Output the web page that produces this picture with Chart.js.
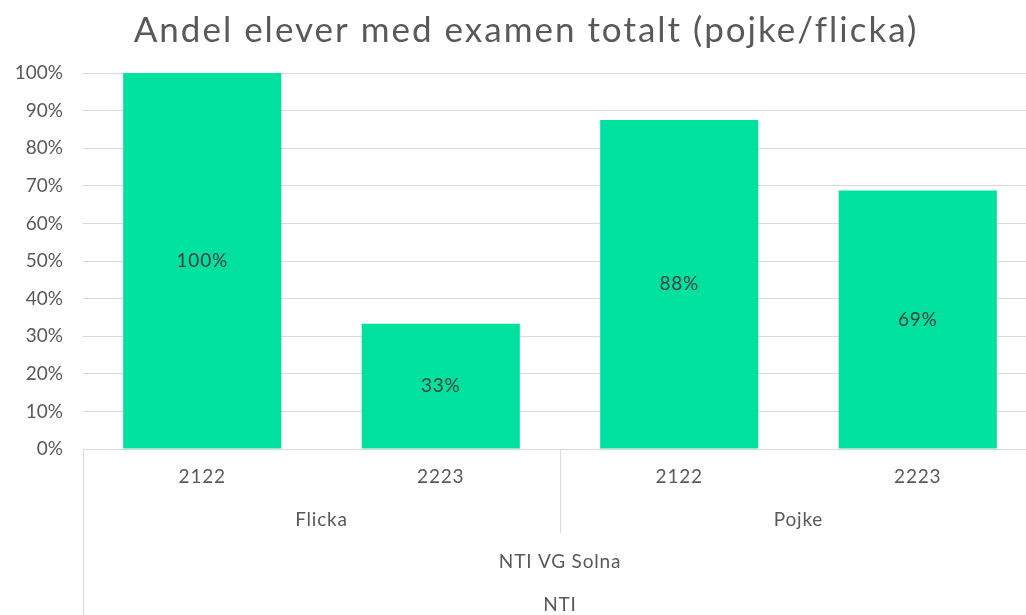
<!DOCTYPE html>
<html>
<head>
<meta charset="utf-8">
<script src="https://cdn.jsdelivr.net/npm/chart.js@4/dist/chart.umd.min.js"></script>
<style>
  html, body { margin: 0; padding: 0; background: #fff; overflow: hidden; }
  #wrap { width: 1040px; height: 615px; }
</style>
</head>
<body>
<div id="wrap"><canvas id="chart"></canvas></div>
<script>
const title = 'Andel elever med examen totalt (pojke/flicka)';
const years = ['2122', '2223', '2122', '2223'];
const genders = ['Flicka', 'Pojke'];
const school = 'NTI VG Solna';
const org = 'NTI';
const shares = [100, 33.3, 87.5, 68.75];
const shareLabels = ['100%', '33%', '88%', '69%'];

const FONT = 'Lato, "Open Sans", sans-serif';
const TEXT = '#595959';

// title, grouped category labels under the axis, data labels in the bars
const groupAxis = {
  id: 'groupAxis',
  afterDraw(chart) {
    const ctx = chart.ctx;
    const x = chart.scales.x;
    const area = chart.chartArea;
    const bottom = area.bottom;

    ctx.save();
    ctx.fillStyle = TEXT;
    ctx.textAlign = 'center';
    ctx.textBaseline = 'middle';
    ctx.font = '35px ' + FONT;
    ctx.letterSpacing = '2px';
    ctx.fillText(title, 526, 31);

    ctx.strokeStyle = '#d9d9d9';
    ctx.lineWidth = 1;
    ctx.beginPath();
    ctx.moveTo(area.left + 0.5, bottom);
    ctx.lineTo(area.left + 0.5, 615);
    const mid = (x.getPixelForValue(1) + x.getPixelForValue(2)) / 2;
    ctx.moveTo(Math.round(mid) + 0.5, bottom);
    ctx.lineTo(Math.round(mid) + 0.5, bottom + 84);
    ctx.stroke();

    ctx.font = '19px ' + FONT;
    ctx.letterSpacing = '0.8px';
    years.forEach((y, i) => ctx.fillText(y, x.getPixelForValue(i), bottom + 28));
    genders.forEach((g, i) => {
      const c = (x.getPixelForValue(i * 2) + x.getPixelForValue(i * 2 + 1)) / 2;
      ctx.fillText(g, c, bottom + 71);
    });
    const all = (x.getPixelForValue(0) + x.getPixelForValue(3)) / 2;
    ctx.fillText(school, all, bottom + 113);
    ctx.fillText(org, all, bottom + 156);

    ctx.fillStyle = '#404040';
    const meta = chart.getDatasetMeta(0);
    meta.data.forEach((bar, i) => {
      ctx.fillText(shareLabels[i], bar.x, (bar.y + bar.base) / 2);
    });
    ctx.restore();
  }
};

new Chart(document.getElementById('chart'), {
  type: 'bar',
  data: {
    labels: years,
    datasets: [{
      data: shares,
      backgroundColor: '#00e19f',
      barPercentage: 0.663,
      categoryPercentage: 1
    }]
  },
  options: {
    responsive: true,
    maintainAspectRatio: false,
    animation: false,
    layout: { padding: { left: 0, right: 3, top: 73, bottom: 0 } },
    plugins: {
      legend: { display: false },
      tooltip: { enabled: false },
      title: { display: false }
    },
    scales: {
      x: {
        grid: { display: false, drawTicks: false },
        border: { color: '#d9d9d9' },
        ticks: { display: false },
        afterFit: (s) => { s.height = 166; }
      },
      y: {
        min: 0,
        max: 100,
        ticks: {
          stepSize: 10,
          padding: 20,
          color: TEXT,
          font: { family: FONT, size: 19 },
          callback: (v) => v + '%'
        },
        grid: { color: '#d9d9d9', drawTicks: false },
        border: { display: false },
        afterFit: (s) => { s.width = 83; }
      }
    }
  },
  plugins: [groupAxis]
});
</script>
</body>
</html>
